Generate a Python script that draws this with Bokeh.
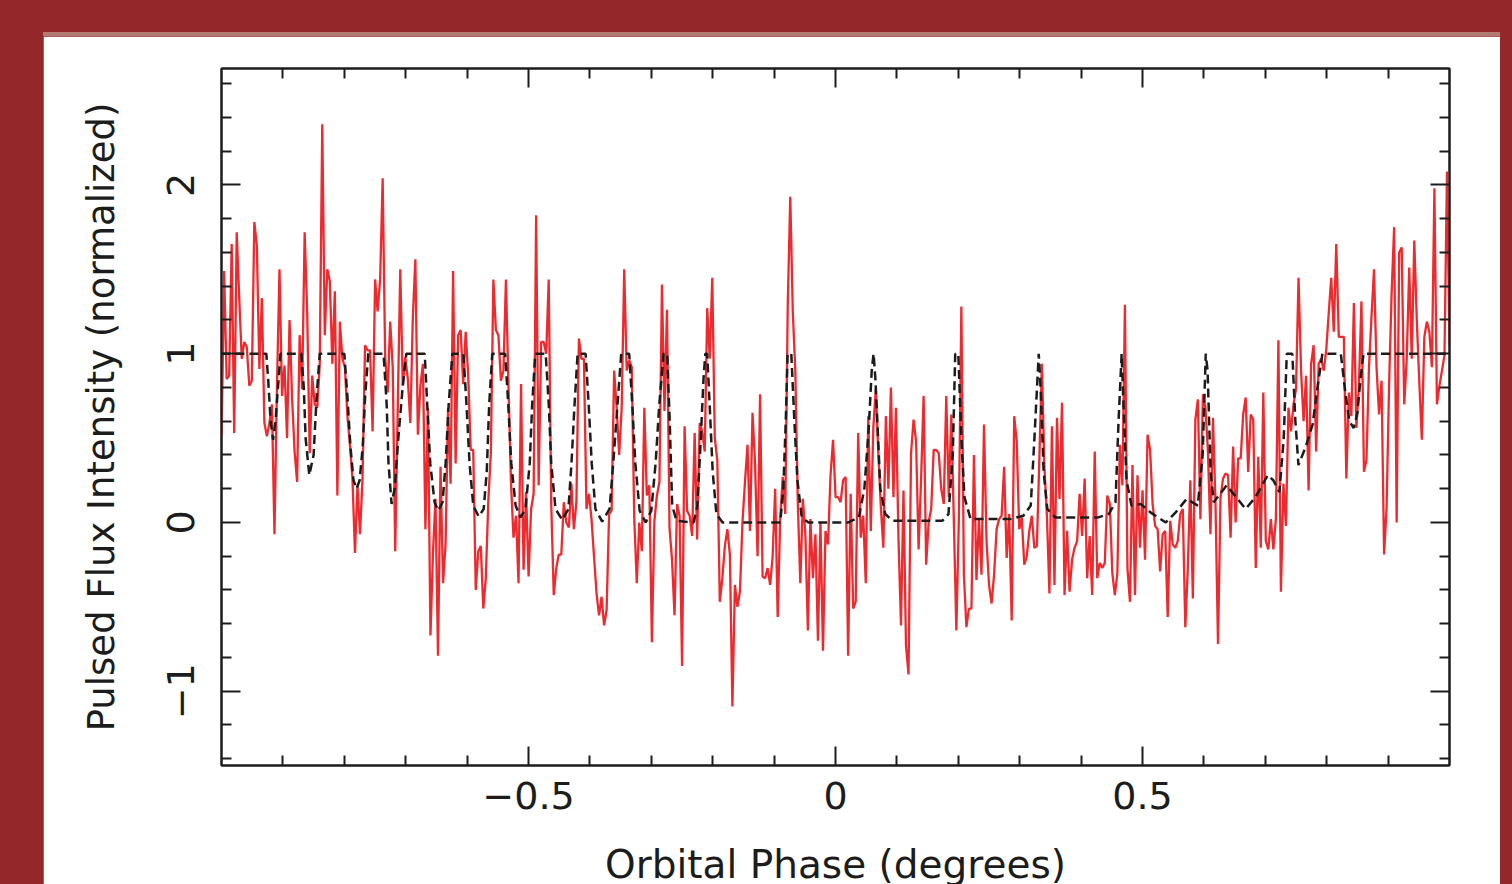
import numpy as np
from bokeh.plotting import figure
from bokeh.models import Range1d, FixedTicker, LinearAxis, Div
from bokeh.layouts import column
from bokeh.embed import file_html
from bokeh.resources import INLINE

# ---------------- data ----------------
# pulsed flux per orbital-phase bin (bins evenly spaced)
flux = [
    0.48, 0.52, 0.52, 1.49, 0.85, 0.87, 1.65, 0.53, 1.72, 1.33,
    0.97, 1.07, 1.04, 0.81, 0.84, 1.78, 1.64, 0.91, 1.33, 0.59,
    0.51, 0.59, 0.70, -0.07, 0.81, 1.50, 0.75, 0.93, 0.50, 1.20,
    0.74, 0.42, 0.24, 1.11, 0.79, 1.72, 1.25, 0.41, 0.87, 0.70,
    0.68, 0.94, 2.36, 1.11, 1.50, 1.43, 0.94, 1.37, 0.16, 1.19,
    0.97, 0.92, 0.63, 0.46, 0.26, -0.18, 0.22, -0.07, 0.26, 1.05,
    1.02, 1.02, 0.54, 1.44,
    1.25, 1.44, 2.04, 0.98, 0.77, 1.19, 0.92, -0.17, 0.68, 1.50,
    0.81, 0.98, 0.85, 0.59, 1.22, 1.56, 0.52, 0.81, 0.94, -0.04,
    0.68, -0.67, -0.18, 0.14, -0.79, 0.33, -0.36, -0.13, 0.68, 0.23,
    1.49, 0.35, 1.11, 1.14, 0.82, 1.13, 0.87, 0.43, 0.43, -0.40,
    -0.17, -0.14, -0.51, -0.33, 0.13, 0.41, 1.44, 1.14, 1.11, 0.84,
    0.90, 1.44, 0.81, 0.24, -0.09, 0.04,
    -0.36, 0.82, -0.28, 0.18, -0.32, 0.08, 0.17, 1.82, 0.22, 1.07,
    1.07, 1.00, 1.44, 0.11, -0.43, -0.27, -0.19, -0.19, 0.12, 0.00,
    -0.03, 0.23, -0.04, 0.12, 1.09, 0.97, 0.97, 0.08, 0.17, 0.02,
    -0.20, -0.42, -0.55, -0.44, -0.61, -0.52, 0.05, 0.07, 0.90, 0.68,
    0.40, 0.68, 1.50, 0.90, 0.96, 0.92, 0.02, -0.36, 0.00, -0.17,
    0.68, 0.16, 0.22, -0.71, 0.01, 0.16, 0.24, 1.41, 0.66,
    1.26, -0.03, -0.22, -0.55, 0.11, 0.04, -0.85, 0.57, 0.07, 0.04,
    -0.08, 0.53, -0.10, 0.59, 0.54, 0.42, 1.27, 0.97, 1.45, 0.50,
    0.37, -0.47, -0.33, -0.14, -0.04, -0.19, -1.09, -0.37, -0.50, -0.41,
    0.00, 0.24, 0.46, -0.05, 0.65, 0.35, -0.20, 0.76, -0.32, -0.33,
    -0.27, -0.37, -0.20, 0.20, -0.56, 0.02, 0.27, 0.05, 1.29, 1.93,
    1.25, 0.90, 0.11, -0.36, 0.14, -0.07, -0.64, 0.02, -0.33, -0.07,
    -0.70, 0.00, -0.76, -0.05, -0.13, 0.28, 0.49, 0.15, 0.15, 0.12,
    0.25, 0.27, -0.79, 0.17, -0.51, -0.47, 0.53, -0.09, 0.04, -0.36,
    0.63, -0.05, 0.56, 0.79, 0.41, 0.09, -0.15, 0.63, 0.20, 0.80,
    0.15, 0.68, -0.09, -0.61, 0.19, -0.73, -0.90, 0.41, 0.61, 0.48,
    -0.16, 0.26, 0.75, -0.25, 0.00, 0.08, 0.43, 0.43, 0.41, 0.20,
    0.11, 0.75, 0.15, 0.64, 0.02, -0.64, 0.02, 1.28, -0.31,
    -0.62, -0.51, -0.51, 0.40, -0.34, 0.02, -0.31, 0.58, -0.11, -0.37,
    -0.48, -0.31, -0.04, 0.02, 0.04, 0.33, -0.21, 0.05, -0.58, 0.63,
    0.48, -0.04, 0.03, -0.25, -0.20, -0.05, 0.04, -0.15, -0.14, 0.38,
    0.94, 0.33, 0.04, -0.42, 0.57, -0.37, 0.62, 0.14, 0.71, -0.43,
    -0.05, -0.41, -0.22, -0.15, -0.11, 0.17, -0.08, 0.26, -0.33, -0.08,
    -0.43, 0.42, -0.33, -0.24, -0.27, -0.24, 0.16, 0.11, -0.30, -0.43,
    -0.30, 0.46, 0.22, 1.29, -0.27, -0.47, 0.34, -0.43, 0.28, -0.15,
    0.19, -0.22, 0.52, 0.43, 0.11, -0.02, -0.04, -0.29, -0.07, -0.05,
    -0.56, 0.01, -0.13, -0.15, -0.11, 0.05, 0.08, -0.62, -0.27, 0.25,
    -0.45, 0.61, 0.73, 0.02, 0.76, 0.68, 0.42, -0.07, 0.62, 0.11,
    -0.72, 0.15, 0.26, 0.29, 0.28, -0.09, 0.45, 0.00, 0.38, 0.38,
    0.64, 0.74, 0.30, 0.64, 0.61, -0.27, 0.39, -0.15, 0.77, -0.11,
    -0.16, 0.02, -0.16, 0.02, 1.08, -0.41, 0.23, -0.02, 0.68, 0.54,
    0.70, 0.79, 1.45, 0.90, 0.60, 0.87, 0.19, 0.94, 1.05, 0.42,
    0.94, 0.97, 0.90, 1.02, 1.24, 1.45, 1.13, 1.65, 1.10, 1.10,
    1.10, 0.26, 0.77, 0.63, 1.30, 0.56, 0.81, 1.31, 0.30, 0.37,
    0.92, 1.22, 1.50, 0.92, 0.64, 0.84, -0.19, 0.09, 0.82, 1.36,
    1.75, 0.00, 1.60, 1.63, 0.70, 0.97, 1.51, 0.97, 1.67, 1.20,
    0.83, 0.49, 1.10, 1.19, 1.13, 0.92, 1.98, 0.70, 0.81, 0.90,
    0.99, 2.08, 1.05,
]
phase_first, phase_last = -1.008, 1.0
phase = np.linspace(phase_first, phase_last, len(flux))  # phase-bin centres

# model light curve (dashed)
model_phase = [
    -1.0, -0.927, -0.924, -0.920, -0.916, -0.912, -0.907, -0.904,
    -0.870, -0.866, -0.863, -0.857, -0.850, -0.845, -0.840,
    -0.800, -0.795, -0.790, -0.785, -0.780, -0.775, -0.770, -0.766, -0.761,
    -0.736, -0.731, -0.728, -0.723, -0.718, -0.712, -0.705, -0.699,
    -0.669, -0.665, -0.660, -0.653, -0.647, -0.640, -0.635, -0.630, -0.624,
    -0.606, -0.601, -0.596, -0.590, -0.581, -0.573, -0.568, -0.564, -0.559,
    -0.538, -0.533, -0.528, -0.521, -0.513, -0.505, -0.498, -0.494, -0.489,
    -0.472, -0.467, -0.463, -0.456, -0.445, -0.435, -0.430, -0.425, -0.420,
    -0.407, -0.402, -0.397, -0.391, -0.380, -0.368, -0.362, -0.355, -0.349,
    -0.336, -0.331, -0.326, -0.319, -0.309, -0.300, -0.293, -0.287, -0.280,
    -0.274, -0.270, -0.266, -0.259, -0.231, -0.225, -0.220, -0.215, -0.212,
    -0.209, -0.205, -0.200, -0.194, -0.184, -0.090, -0.085, -0.081, -0.078,
    -0.072, -0.067, -0.062, -0.055, -0.044, 0.021, 0.038, 0.047, 0.054, 0.059, 0.062,
    0.065, 0.070, 0.073, 0.081, 0.093, 0.174, 0.184, 0.191, 0.195,
    0.200, 0.205, 0.210, 0.220, 0.285, 0.306, 0.318, 0.324, 0.331,
    0.334, 0.339, 0.345, 0.358, 0.428, 0.445, 0.456, 0.461, 0.466,
    0.469, 0.474, 0.482, 0.497, 0.513, 0.538, 0.554, 0.572, 0.590, 0.598, 0.603,
    0.606, 0.611, 0.616, 0.637, 0.668, 0.684, 0.704, 0.713, 0.723, 0.730, 0.735,
    0.744, 0.749, 0.754, 0.766, 0.777, 0.785, 0.793,
    0.823, 0.831, 0.837, 0.844, 0.850, 0.855, 0.860, 1.0,
]
model_flux = [
    1, 1, 0.85, 0.6, 0.49, 0.6, 0.85, 1,
    1, 0.8, 0.5, 0.28, 0.4, 0.75, 1,
    1, 0.75, 0.45, 0.25, 0.2, 0.25, 0.45, 0.75, 1,
    1, 0.7, 0.35, 0.11, 0.2, 0.5, 0.8, 1,
    1, 0.7, 0.35, 0.12, 0.07, 0.12, 0.35, 0.7, 1,
    1, 0.7, 0.35, 0.1, 0.035, 0.08, 0.3, 0.7, 1,
    1, 0.7, 0.35, 0.1, 0.03, 0.08, 0.35, 0.7, 1,
    1, 0.7, 0.35, 0.08, 0.015, 0.08, 0.35, 0.7, 1,
    1, 0.7, 0.35, 0.08, 0.005, 0.08, 0.35, 0.7, 1,
    1, 0.7, 0.35, 0.07, 0.0, 0.07, 0.35, 0.7, 1,
    1, 0.6, 0.1, 0.01, 0.0, 0.1, 0.45, 0.85, 1,
    1, 0.7, 0.3, 0.05, 0.0, 0.0, 0.2, 0.6, 1,
    1, 0.6, 0.25, 0.03, 0.0, 0.0, 0.03, 0.2, 0.55, 0.9, 1,
    0.85, 0.45, 0.2, 0.05, 0.01, 0.01, 0.05, 0.4, 1,
    1, 0.5, 0.15, 0.02, 0.02, 0.04, 0.1, 0.5, 1,
    0.8, 0.3, 0.08, 0.03, 0.03, 0.05, 0.12, 0.6, 1,
    0.7, 0.25, 0.1, 0.11, 0.06, 0.0, 0.06, 0.14, 0.1, 0.4, 1,
    0.9, 0.3, 0.12, 0.22, 0.08, 0.15, 0.28, 0.25, 0.18, 0.5, 1,
    1, 0.6, 0.34, 0.45, 0.58, 0.8, 1,
    1, 0.75, 0.6, 0.56, 0.65, 0.85, 1, 1,
]

x_ticks = [-0.5, 0.0, 0.5]
x_tick_labels = ["\u22120.5", "0", "0.5"]
x_minor = [-0.9, -0.8, -0.7, -0.6, -0.4, -0.3, -0.2, -0.1,
           0.1, 0.2, 0.3, 0.4, 0.6, 0.7, 0.8, 0.9]
y_ticks = [-1, 0, 1, 2]
y_tick_labels = ["\u22121", "0", "1", "2"]
y_minor = [-1.4, -1.2, -0.8, -0.6, -0.4, -0.2, 0.2, 0.4, 0.6, 0.8,
           1.2, 1.4, 1.6, 1.8, 2.2, 2.4, 2.6]

x_title = "Orbital Phase (degrees)"
y_title = "Pulsed Flux Intensity (normalized)"

# ---------------- styling ----------------
INK = "#1c1c1c"
RED = "#ee2a2e"
FONT = "DejaVu Sans"

p = figure(frame_width=1228, frame_height=697,
           x_range=Range1d(-1.0, 1.0), y_range=Range1d(-1.44, 2.69),
           output_backend="svg", toolbar_location=None,
           min_border_left=178, min_border_right=51,
           min_border_top=32, min_border_bottom=119,
           background_fill_color="white", border_fill_color="white",
           x_axis_label=x_title, y_axis_label=y_title)
p.xgrid.visible = False
p.ygrid.visible = False
p.outline_line_color = INK
p.outline_line_width = 2


def style_axis(ax, ticks, minor, labels, show):
    ax.ticker = FixedTicker(ticks=ticks, minor_ticks=minor)
    ax.major_tick_in = 19
    ax.major_tick_out = 0
    ax.minor_tick_in = 10
    ax.minor_tick_out = 0
    ax.major_tick_line_width = 2
    ax.minor_tick_line_width = 2
    ax.major_tick_line_color = INK
    ax.minor_tick_line_color = INK
    ax.axis_line_color = INK
    ax.axis_line_width = 2
    if show:
        ax.major_label_overrides = dict(zip(ticks, labels))
        ax.major_label_text_font = FONT
        ax.major_label_text_font_size = "38px"
        ax.major_label_text_color = INK
        ax.axis_label_text_font = FONT
        ax.axis_label_text_font_style = "normal"
        ax.axis_label_text_color = INK
    else:
        ax.major_label_text_color = None
        ax.major_label_text_font_size = "8px"
        ax.major_label_standoff = 0


xb = p.xaxis[0]
yl = p.yaxis[0]
style_axis(xb, x_ticks, x_minor, x_tick_labels, True)
style_axis(yl, y_ticks, y_minor, y_tick_labels, True)
xb.major_label_standoff = 16
xb.axis_label_standoff = 30
xb.axis_label_text_font_size = "39px"
yl.major_label_orientation = "vertical"
yl.major_label_standoff = 27
yl.axis_label_standoff = 42
yl.axis_label_text_font_size = "37px"

xt = LinearAxis()
style_axis(xt, x_ticks, x_minor, x_tick_labels, False)
p.add_layout(xt, "above")
yr = LinearAxis()
style_axis(yr, y_ticks, y_minor, y_tick_labels, False)
p.add_layout(yr, "right")

p.line(phase, flux, line_color=RED, line_width=2.3)
p.line(model_phase, model_flux, line_color=INK, line_width=2.5, line_dash="9 5")

strip = Div(width=1457, height=4, margin=0, styles={"background-color": "#b27b72"})
page = column(strip, p, spacing=0,
              styles={"background-color": "#93272a",
                      "padding": "32px 12px 0px 43px"})

open("out.html", "w").write(file_html(page, INLINE))
